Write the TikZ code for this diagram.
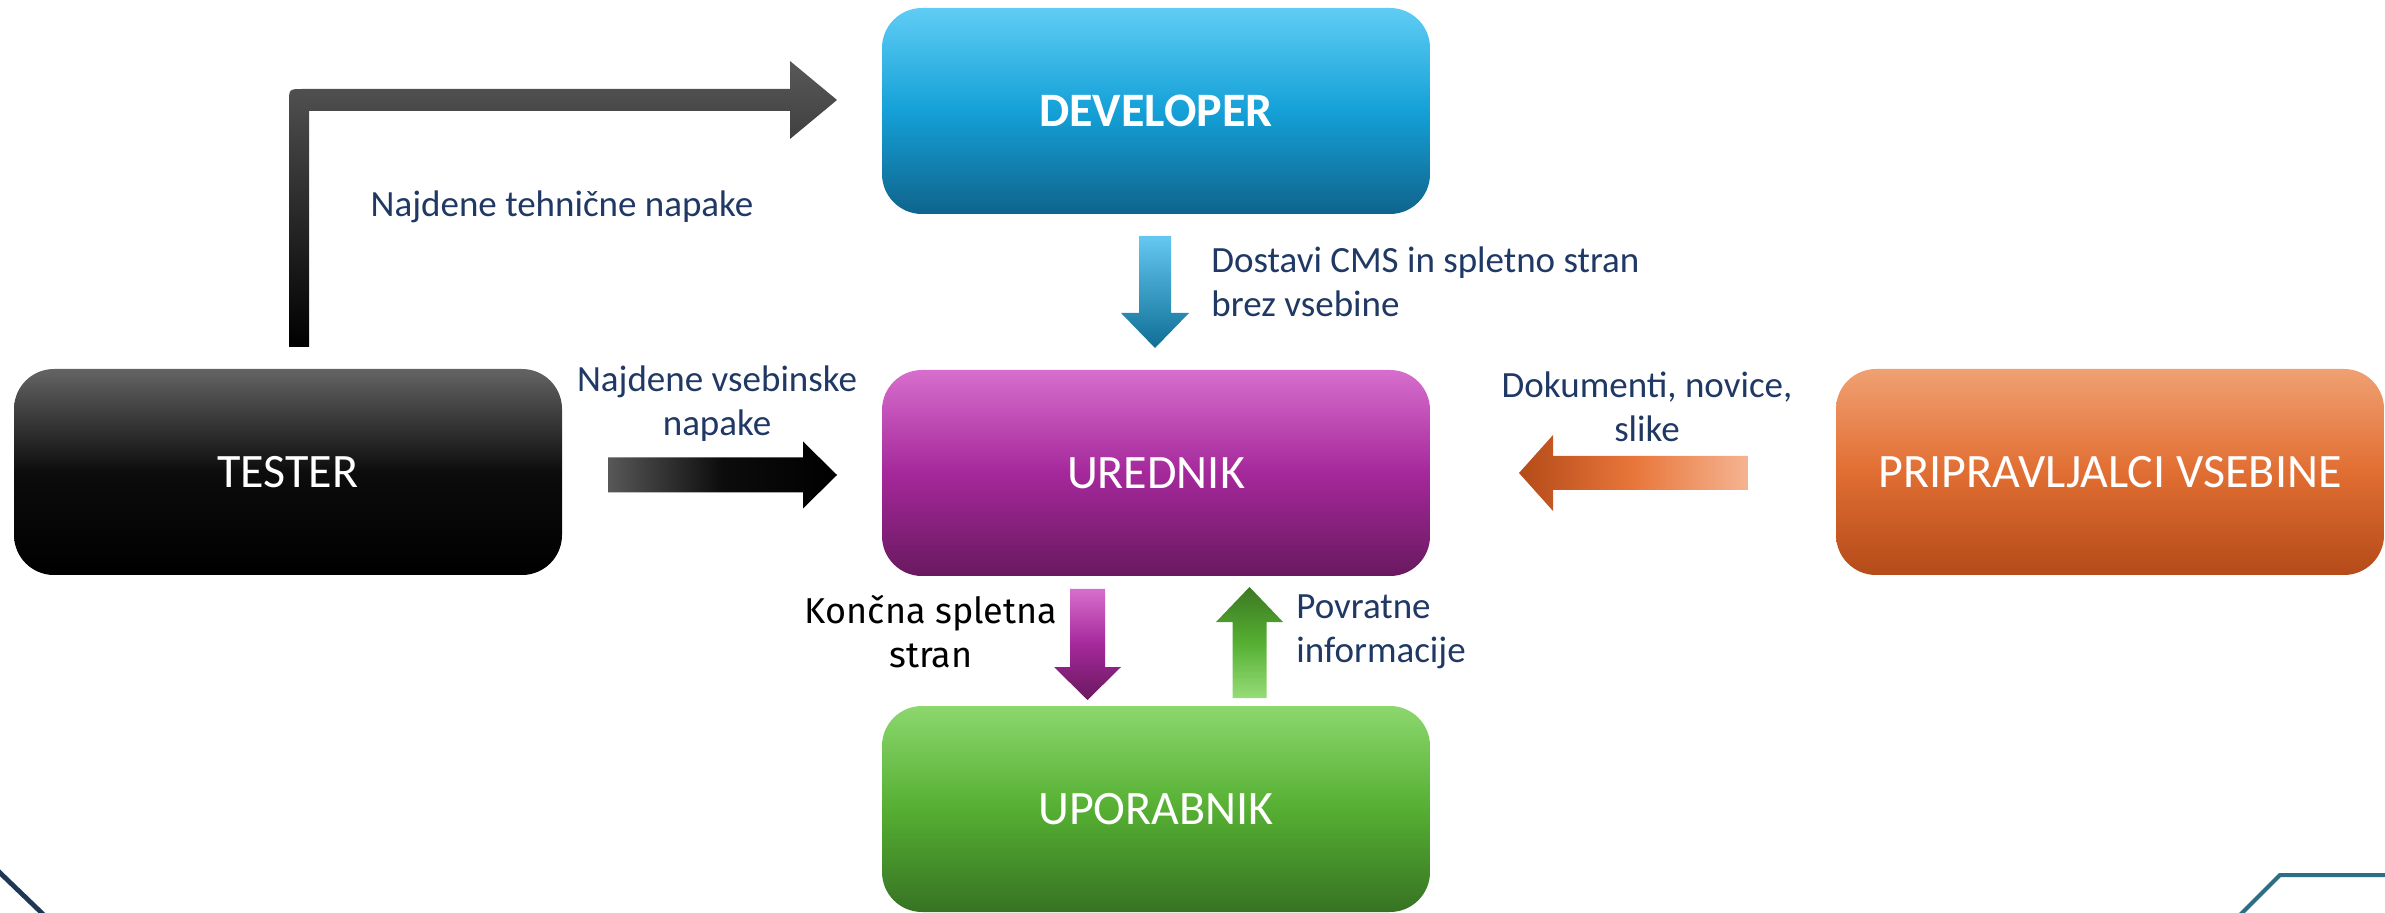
\documentclass[tikz,border=0pt]{standalone}
\usepackage{fontspec}
\setmainfont{Carlito}
\newfontfamily\altfont{Fira Sans}
\usetikzlibrary{calc}
\definecolor{navy}{RGB}{31,56,100}
\definecolor{devT}{RGB}{95,205,245}\definecolor{devM}{RGB}{20,160,215}\definecolor{devB}{RGB}{15,100,140}
\definecolor{ureT}{RGB}{215,110,205}\definecolor{ureM}{RGB}{165,40,155}\definecolor{ureB}{RGB}{105,25,95}
\definecolor{upoT}{RGB}{140,215,110}\definecolor{upoM}{RGB}{85,175,50}\definecolor{upoB}{RGB}{55,115,35}
\definecolor{tesT}{RGB}{100,100,100}\definecolor{tesM}{RGB}{12,12,12}
\definecolor{priT}{RGB}{240,160,115}\definecolor{priM}{RGB}{225,110,50}\definecolor{priB}{RGB}{180,75,25}
\definecolor{arrgray}{RGB}{88,88,88}
\definecolor{blueT}{RGB}{100,200,240}\definecolor{blueB}{RGB}{15,110,150}
\definecolor{oraD}{RGB}{180,75,25}\definecolor{oraM}{RGB}{232,118,58}\definecolor{oraL}{RGB}{245,180,145}
\definecolor{greD}{RGB}{60,120,35}\definecolor{greL}{RGB}{150,220,120}
\definecolor{decnavy}{RGB}{30,55,85}\definecolor{decteal}{RGB}{45,110,130}
\newcommand\myblockarrow[6]{%
  \coordinate (hb) at ($(#2)!#5!(#1)$);
  \shade[#6] ($(#1)!#3!-90:(#2)$) -- ($(hb)!#3!-90:(#2)$) -- ($(hb)!#4!-90:(#2)$) -- (#2)
    -- ($(hb)!#4!90:(#2)$) -- ($(hb)!#3!90:(#2)$) -- ($(#1)!#3!90:(#2)$) -- cycle;}
\begin{document}
\begin{tikzpicture}[x=0.5pt,y=-0.5pt,
  box/.style={rounded corners=20pt, minimum width=274pt, minimum height=103pt, inner sep=0pt,
    text=white, font=\fontsize{24}{28}\selectfont},
  lbl/.style={text=navy, inner sep=0pt, font=\fontsize{18.5}{22}\selectfont},
]
\useasboundingbox (0,0) rectangle (2385,913);
% background decorations
\draw[decnavy, line width=2.4pt] (-5,868) -- (47,918);
\draw[decteal, line width=2pt] (2238,917) -- (2280,875) -- (2390,875);
% boxes
\node[box, top color=devT, bottom color=devB, middle color=devM] (dev) at (1156,111) {\textbf{DEVELOPER}};
\node[box, top color=ureT, bottom color=ureB, middle color=ureM] (ure) at (1156,473) {UREDNIK};
\node[box, top color=upoT, bottom color=upoB, middle color=upoM] (upo) at (1156,809) {UPORABNIK};
\node[box, top color=tesT, bottom color=black, middle color=tesM] (tes) at (288,472) {TESTER};
\node[box, top color=priT, bottom color=priB, middle color=priM] (pri) at (2110,472) {PRIPRAVLJALCI VSEBINE};
% bent arrow tester -> developer
\shade[top color=arrgray, bottom color=black]
  (289,347) -- (289,103) .. controls (289,89) .. (303,89) -- (790,89) -- (790,61) -- (837,100)
  -- (790,139) -- (790,111) -- (309,111) -- (309,347) -- cycle;
% straight block arrows
\coordinate (blueS) at (1155,236); \coordinate (blueE) at (1155,348);
\myblockarrow{blueS}{blueE}{8pt}{17pt}{17.5pt}{top color=blueT, bottom color=blueB}
\coordinate (blkS) at (608,475); \coordinate (blkE) at (837,475);
\myblockarrow{blkS}{blkE}{8.75pt}{16.75pt}{17pt}{left color=arrgray, right color=black, middle color=tesM}
\coordinate (oraS) at (1748,473); \coordinate (oraE) at (1519,473);
\myblockarrow{oraS}{oraE}{8.5pt}{19pt}{17pt}{left color=oraD, right color=oraL, middle color=oraM}
\coordinate (purS) at (1087.5,589); \coordinate (purE) at (1087.5,700);
\myblockarrow{purS}{purE}{8.75pt}{16.75pt}{16.5pt}{top color=ureT, bottom color=ureB, middle color=ureM}
\coordinate (greS) at (1249.5,698); \coordinate (greE) at (1249.5,587);
\myblockarrow{greS}{greE}{8.5pt}{16.75pt}{17.5pt}{top color=greD, bottom color=greL, middle color=upoM}
% labels (base anchor = last line baseline)
\node[lbl, anchor=base] (l1) at (562,217) {Najdene tehnične napake};
\node[lbl, anchor=base west, align=left] (l2) at (1211,317) {Dostavi CMS in spletno stran\\brez vsebine};
\node[lbl, anchor=base, align=center] (l3) at (717,436) {Najdene vsebinske\\napake};
\node[lbl, anchor=base, align=center] (l4) at (1647,442) {Dokumenti, novice,\\slike};
\node[lbl, anchor=base, align=center, text=black, font=\altfont\fontsize{18}{22}\selectfont] (l5) at (931,667) {Končna spletna\\stran};
\node[lbl, anchor=base west, align=left] (l6) at (1296,662) {Povratne\\informacije};
\end{tikzpicture}
\end{document}
